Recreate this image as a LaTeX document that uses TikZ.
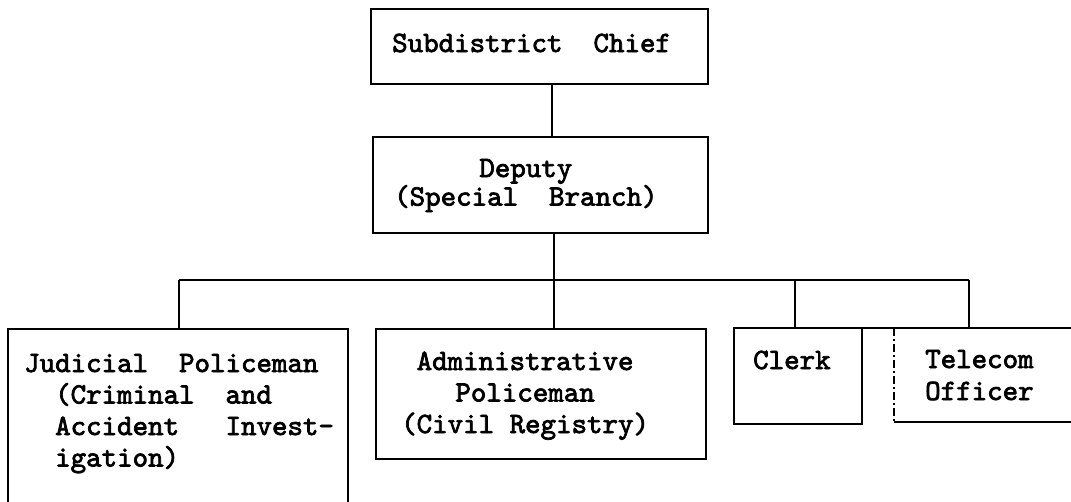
\documentclass[tikz,border=0pt]{standalone}
\usepackage{fontspec}
\newfontfamily\tw[FakeBold=2.5]{lmmono10-regular.otf}
\begin{document}
\begin{tikzpicture}[x=1pt,y=-1pt,
  box/.style={draw=black,line width=2.2pt,anchor=north west,inner sep=0pt,outer sep=0pt},
  txt/.style={anchor=base west,inner sep=0pt,font=\tw\fontsize{29.5}{31.5}\selectfont},
  conn/.style={draw=black,line width=1.4pt},
  thickconn/.style={draw=black,line width=2.6pt},
  bar/.style={draw=black,line width=2.4pt}]
\clip (0,0) rectangle (1071,501);
\fill[white] (0,0) rectangle (1071,501);
% boxes
\node[box,minimum width=337pt,minimum height=75pt] (chief) at (371,9) {};
\node[box,minimum width=335pt,minimum height=96pt] (deputy) at (373,137) {};
\node[box,minimum width=340pt,minimum height=190pt] (judicial) at (8,329) {};
\node[box,minimum width=330pt,minimum height=130pt] (admin) at (376,329) {};
\node[box,minimum width=128pt,minimum height=96pt] (clerk) at (734,328) {};
\node[anchor=north west,inner sep=0pt,outer sep=0pt,minimum width=190pt,minimum height=94pt] (telecom) at (894,328) {};
\draw[line width=2.2pt] (clerk.north east) -- (telecom.north west) -- (telecom.north east);
\draw[line width=2.2pt] (telecom.south west) -- (telecom.south east);
\draw[line width=1.6pt,dash pattern=on 8pt off 3pt on 2pt off 3pt] (telecom.north west) -- (telecom.south west);
% texts
\node[txt] (chief-t) at (392,52) {\begin{tabular}[t]{@{}l@{}}Subdistrict~~Chief\end{tabular}};
\node[txt,font=\tw\fontsize{29.5}{27}\selectfont] (deputy-t) at (394,177) {\begin{tabular}[t]{@{}c@{}}Deputy\\(Special~~Branch)\end{tabular}};
\node[txt] (judicial-t) at (24,372) {\begin{tabular}[t]{@{}l@{}}Judicial~~Policeman\\~~(Criminal~~and\\~~Accident~~~Invest-\\~~igation)\end{tabular}};
\node[txt] (admin-t) at (401,370) {\begin{tabular}[t]{@{}c@{}}Administrative\\Policeman\\(Civil Registry)\end{tabular}};
\node[txt] (clerk-t) at (753,369) {\begin{tabular}[t]{@{}l@{}}Clerk\end{tabular}};
\node[txt,font=\tw\fontsize{29.5}{32}\selectfont] (telecom-t) at (925,368) {\begin{tabular}[t]{@{}l@{}}Telecom\\Officer\end{tabular}};
% connectors
\coordinate (b1) at (179,280);
\coordinate (b2) at (554,280);
\coordinate (b3) at (795,280);
\coordinate (b4) at (969,280);
\draw[conn] (chief.south -| 552,0) -- (deputy.north -| 552,0);
\draw[conn] (deputy.south -| b2) -- (b2);
\draw[bar] (b1) -- (b4);
\draw[conn] (b1) -- (b1 |- judicial.north);
\draw[thickconn] (b2) -- (b2 |- admin.north);
\draw[conn] (b3) -- (b3 |- clerk.north);
\draw[conn] (b4) -- (b4 |- telecom.north);
\end{tikzpicture}
\end{document}
